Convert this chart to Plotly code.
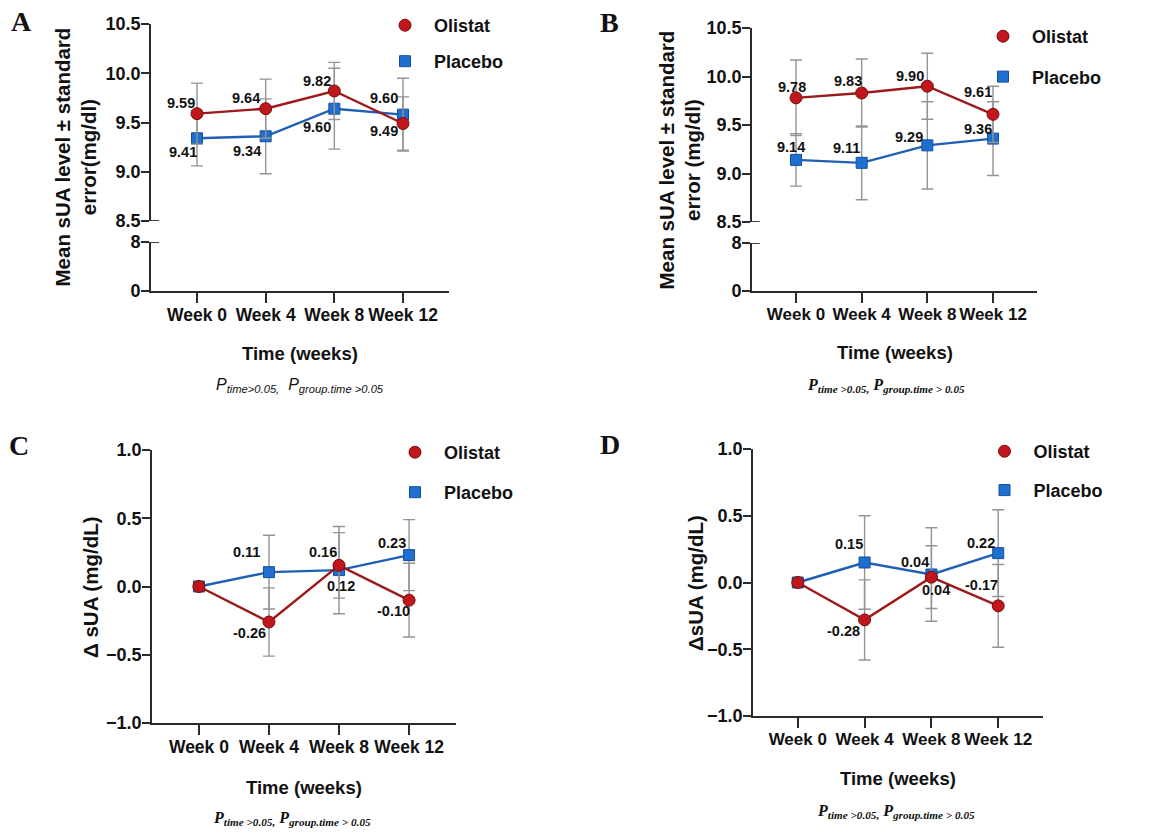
import plotly.graph_objects as go

# ---------------- data ----------------
weeks = ["Week 0", "Week 4", "Week 8", "Week 12"]

# Panel A
a_oli = [9.59, 9.64, 9.82, 9.49]
a_oli_err = [0.31, 0.30, 0.29, 0.27]
a_pla = [9.34, 9.36, 9.64, 9.58]
a_pla_err = [0.28, 0.38, 0.41, 0.37]
a_oli_lbl = ["9.59", "9.64", "9.82", "9.49"]
a_pla_lbl = ["9.41", "9.34", "9.60", "9.60"]

# Panel B
b_oli = [9.78, 9.83, 9.90, 9.61]
b_oli_err = [0.39, 0.35, 0.34, 0.29]
b_pla = [9.14, 9.11, 9.29, 9.36]
b_pla_err = [0.27, 0.38, 0.45, 0.38]
b_oli_lbl = ["9.78", "9.83", "9.90", "9.61"]
b_pla_lbl = ["9.14", "9.11", "9.29", "9.36"]

# Panel C
c_oli = [0.0, -0.26, 0.155, -0.10]
c_oli_err = [None, 0.25, 0.24, 0.27]
c_pla = [0.0, 0.105, 0.12, 0.23]
c_pla_err = [None, 0.27, 0.32, 0.26]
c_oli_lbl = ["", "-0.26", "0.16", "-0.10"]
c_pla_lbl = ["", "0.11", "0.12", "0.23"]

# Panel D
d_oli = [0.0, -0.28, 0.04, -0.175]
d_oli_err = [None, 0.30, 0.235, 0.31]
d_pla = [0.0, 0.15, 0.06, 0.22]
d_pla_err = [None, 0.35, 0.35, 0.325]
d_oli_lbl = ["", "-0.28", "0.04", "-0.17"]
d_pla_lbl = ["", "0.15", "0.04", "0.22"]

upper_ticks = [8.5, 9.0, 9.5, 10.0, 10.5]
lower_ticks = [0, 8]
delta_ticks = [-1.0, -0.5, 0.0, 0.5, 1.0]

# ---------------- style ----------------
W, H = 1176, 833
SANS = "Liberation Sans, Arial, sans-serif"
SERIF = "Liberation Serif, Times New Roman, serif"
RED_M, RED_L, RED_E = "#C0171C", "#9E1A1A", "#7A0C0C"
BLUE_M, BLUE_L, BLUE_E = "#1F6FD1", "#1F5FB5", "#15509C"
GREY = "#949494"
AX = "#2b2b2b"


def px(x):
    return x / W


def py(y):
    return 1 - y / H


fig = go.Figure()
ann = []
labelfont = dict(family=SANS, size=14.5, color="#111", weight="bold")


def add_series(xa, ya, yv, err, lbl, offs, name, legend, is_oli):
    lc = RED_L if is_oli else BLUE_L
    fig.add_trace(go.Scatter(
        x=weeks, y=yv, mode="lines", xaxis=xa, yaxis=ya,
        line=dict(color=lc, width=2.4), showlegend=False, hoverinfo="skip"))
    fig.add_trace(go.Scatter(
        x=weeks, y=yv, mode="markers", xaxis=xa, yaxis=ya, name=name,
        legend=legend, legendgroup=name + legend, legendrank=1 if is_oli else 2,
        marker=dict(symbol="circle" if is_oli else "square",
                    size=12 if is_oli else 11,
                    color=RED_M if is_oli else BLUE_M,
                    line=dict(color=RED_E if is_oli else BLUE_E, width=1)),
        error_y=dict(type="data", array=err, visible=True, color=GREY,
                     thickness=1.4, width=6)))
    # value labels, anchored on the data points
    for i, (v, t, (dx, dy)) in enumerate(zip(yv, lbl, offs)):
        if t:
            ann.append(dict(x=i, y=v, xref=xa, yref=ya, text=t, showarrow=False,
                            xanchor="center", yanchor="middle", xshift=dx, yshift=-dy,
                            font=labelfont))


# label offsets (pixels from point centre)
panels = [
    ("x", "y2", a_oli, a_oli_err, a_oli_lbl, [(-16, -11), (-20, -11), (-17, -10), (-19, 8)],
     a_pla, a_pla_err, a_pla_lbl, [(-14, 14), (-19, 15), (-17, 18), (-19, -17)], "legend"),
    ("x2", "y4", b_oli, b_oli_err, b_oli_lbl, [(-4, -11), (-14, -12), (-17, -10), (-15, -22)],
     b_pla, b_pla_err, b_pla_lbl, [(-5, -13), (-15, -15), (-18, -8), (-15, -10)], "legend2"),
    ("x3", "y5", c_oli, c_oli_err, c_oli_lbl, [(0, 0), (-19, 11), (-16, -13), (-16, 11)],
     c_pla, c_pla_err, c_pla_lbl, [(0, 0), (-22, -20), (2, 16), (-17, -12)], "legend3"),
    ("x4", "y6", d_oli, d_oli_err, d_oli_lbl, [(0, 0), (-21, 11), (5, 13), (-17, -21)],
     d_pla, d_pla_err, d_pla_lbl, [(0, 0), (-16, -18), (-16, -12), (-17, -10)], "legend4"),
]

# empty traces so the lower broken-axis segments exist
fig.add_trace(go.Scatter(x=[], y=[], xaxis="x", yaxis="y", showlegend=False))
fig.add_trace(go.Scatter(x=[], y=[], xaxis="x2", yaxis="y3", showlegend=False))

for (xa, ya, o, oe, ol, oo, p, pe, pl, po, lg) in panels:
    add_series(xa, ya, p, pe, pl, po, "Placebo", lg, False)
    add_series(xa, ya, o, oe, ol, oo, "Olistat", lg, True)

tickfont = dict(family=SANS, size=18, color="#111", weight="bold")
base = dict(showline=True, linecolor=AX, linewidth=1.8, ticks="outside",
            tickcolor=AX, tickwidth=1.8, showgrid=False, zeroline=False,
            tickfont=tickfont, fixedrange=True)
xbase = dict(base, ticklen=10, type="category", range=[-0.67, 3.67],
             tickangle=0, ticklabelstandoff=-3,
             tickfont=dict(tickfont, size=17.5))
xbase_narrow = dict(xbase, tickfont=dict(tickfont, size=17))
ybase = dict(base, ticklen=8, ticklabelstandoff=-3)

layout = dict(
    width=W, height=H, margin=dict(l=0, r=0, t=0, b=0, autoexpand=False),
    paper_bgcolor="white", plot_bgcolor="white",
    # Panel A
    xaxis=dict(xbase, domain=[px(151), px(449)], anchor="y"),
    yaxis=dict(ybase, domain=[py(291), py(242)], range=[0, 8], tickvals=lower_ticks, anchor="x"),
    yaxis2=dict(ybase, domain=[py(221), py(24)], range=[8.5, 10.5], tickvals=upper_ticks,
                tickformat=".1f", anchor="x"),
    # Panel B
    xaxis2=dict(xbase_narrow, domain=[px(752), px(1037)], anchor="y3"),
    yaxis3=dict(ybase, domain=[py(291), py(243)], range=[0, 8], tickvals=lower_ticks, anchor="x2"),
    yaxis4=dict(ybase, domain=[py(222), py(28)], range=[8.5, 10.5], tickvals=upper_ticks,
                tickformat=".1f", anchor="x2"),
    # Panel C
    xaxis3=dict(xbase, domain=[px(152), px(456)], anchor="y5"),
    yaxis5=dict(ybase, domain=[py(723), py(450)], range=[-1, 1], tickvals=delta_ticks,
                tickformat=".1f", anchor="x3"),
    # Panel D
    xaxis4=dict(xbase_narrow, domain=[px(753), px(1043)], anchor="y6"),
    yaxis6=dict(ybase, domain=[py(716), py(449)], range=[-1, 1], tickvals=delta_ticks,
                tickformat=".1f", anchor="x4"),
)

legfont = dict(family=SANS, size=18, color="#111", weight="bold")


def leg(mx, my, gap):
    return dict(x=px(mx - 29), y=py(my - 19), xanchor="left", yanchor="top",
                font=legfont, itemwidth=48, traceorder="grouped",
                tracegroupgap=gap, bgcolor="rgba(0,0,0,0)", borderwidth=0)


layout["legend"] = leg(405, 26, 9.6)
layout["legend2"] = leg(1003, 37, 14)
layout["legend3"] = leg(415, 453, 13.6)
layout["legend4"] = leg(1004.5, 452, 12.5)

fig.update_layout(**layout)

# broken-axis end caps
for ya, yv, xd in [("y2", 8.5, "x domain"), ("y", 8, "x domain"),
                   ("y4", 8.5, "x2 domain"), ("y3", 8, "x2 domain")]:
    fig.add_shape(type="line", xref=xd, yref=ya, x0=0, x1=0.027, y0=yv, y1=yv,
                  line=dict(color=AX, width=1.8))

titlefont = dict(family=SANS, size=20.5, color="#111", weight="bold")
# panel letters
for t, x, y in [("A", 21, 21), ("B", 609, 22), ("C", 19, 445), ("D", 610, 444)]:
    ann.append(dict(text=t, x=px(x), y=py(y), xref="paper", yref="paper", showarrow=False,
                    xanchor="center", yanchor="middle",
                    font=dict(family=SERIF, size=28, color="#111", weight="bold")))
# x titles
for x, y in [(300, 354), (895, 353), (304, 787), (898, 778)]:
    ann.append(dict(text="Time (weeks)", x=px(x), y=py(y), xref="paper", yref="paper",
                    showarrow=False, xanchor="center", yanchor="middle", font=dict(titlefont, size=18.5)))
# y titles
ann.append(dict(text="Mean sUA level ± standard<br>error(mg/dl)", x=px(75), y=py(157.5),
                xref="paper", yref="paper", showarrow=False, textangle=-90,
                xanchor="center", yanchor="middle", font=titlefont))
ann.append(dict(text="Mean sUA level ± standard<br>error (mg/dl)", x=px(679.5), y=py(160),
                xref="paper", yref="paper", showarrow=False, textangle=-90,
                xanchor="center", yanchor="middle", font=titlefont))
ann.append(dict(text="Δ sUA (mg/dL)", x=px(90), y=py(587), xref="paper", yref="paper",
                showarrow=False, textangle=-90, xanchor="center", yanchor="middle", font=titlefont))
ann.append(dict(text="ΔsUA (mg/dL)", x=px(115 + 580), y=py(583), xref="paper", yref="paper",
                showarrow=False, textangle=-90, xanchor="center", yanchor="middle", font=titlefont))
# p-value notes
p_sans = ("<i>P</i><sub><i>time</i><i>&gt;0.05,</i></sub>  "
          "<i>P</i><sub><i>group.time</i><i> &gt;0.05</i></sub>")
p_serif = ("<b><i>P</i><sub><i>time</i><i> &gt;0.05,</i></sub> "
           "<i>P</i><sub><i>group.time</i><i> &gt; 0.05</i></sub></b>")
ann.append(dict(text=p_sans, x=px(300), y=py(385), xref="paper", yref="paper", showarrow=False,
                xanchor="center", yanchor="middle", font=dict(family=SANS, size=16, color="#111")))
for x, y in [(886, 385), (292, 818), (896, 811)]:
    ann.append(dict(text=p_serif, x=px(x), y=py(y), xref="paper", yref="paper", showarrow=False,
                    xanchor="center", yanchor="middle", font=dict(family=SERIF, size=16, color="#111")))

fig.update_layout(annotations=ann)
fig.write_html("out.html", config={"displayModeBar": False},
               post_script="document.body.style.margin='0';document.body.style.padding='0';")
